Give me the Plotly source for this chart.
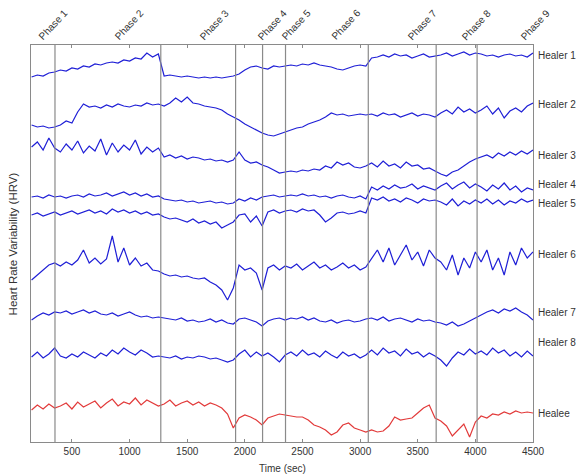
import plotly.graph_objects as go

# time grid (seconds), one sample every 50 s
time_sec = list(range(150, 4501, 50))

# HRV traces (arbitrary stacked units)
healer_1 = ([365, 367, 366, 369, 370] +
            [372, 371, 374, 373, 376, 375, 378, 377, 379, 380, 379, 382, 381, 384, 383, 389, 385, 388] +
            [366, 367, 366, 365, 366, 365, 364, 365, 364, 365, 364, 365, 366] +
            [368, 372, 375, 376, 374] +
            [373, 376, 375, 376] +
            [377, 376, 378, 377, 379, 377, 376, 375, 373, 372, 374, 376, 377, 376] +
            [384, 385, 387, 385, 388, 386, 387, 384, 386, 388, 385, 386] +
            [387, 389, 386, 388, 390, 387, 389] +
            [388, 386, 387, 385, 387, 388, 386, 387, 385, 389])

healer_2 = ([317, 315, 316, 314, 315] +
            [317, 321, 319, 330] +
            [338, 335, 336, 334, 337, 335, 338, 336, 335, 337, 336, 339, 337, 338] +
            [336, 339, 344, 340, 345, 339, 338, 336] +
            [335, 334, 332, 328, 325] +
            [322, 318, 315, 312, 309] +
            [307, 306, 308, 310] +
            [312, 314, 315, 318, 320, 322, 325, 329, 327, 328, 326, 327, 328, 327] +
            [328, 326, 329, 327, 328, 325, 327, 329, 326, 328, 327, 325] +
            [329, 332, 328, 335, 330, 333, 329] +
            [332, 336, 328, 334, 324, 331, 334, 330, 336, 339])

healer_3 = ([295, 300, 292, 304, 294] +
            [290, 298, 292, 301, 289, 296, 291, 303, 287, 299, 290, 297, 292, 302, 288, 295, 290, 294] +
            [285, 287, 284, 286, 283, 285, 284, 282, 283, 281, 282, 280, 282] +
            [290, 282, 279, 280, 277] +
            [275, 272, 269, 270] +
            [271, 270, 272, 271, 273, 272, 276, 274, 280, 277, 279, 275, 274, 276] +
            [279, 275, 281, 276, 278, 274, 280, 276, 277, 273, 274, 271] +
            [268, 266, 270, 272, 276, 280, 283] +
            [285, 287, 284, 289, 286, 290, 287, 291, 288, 292])

healer_4 = ([245, 246, 244, 247, 245, 246, 244, 246, 247, 245, 248, 246, 247, 249, 246, 248, 250, 247, 249, 246, 248, 245, 246] +
            [243, 242, 241, 242, 240, 241, 239, 240, 241, 239, 240, 238, 239] +
            [243, 241, 244, 242, 245] +
            [246, 247, 245, 246] +
            [247, 246, 248, 246, 247, 245, 246, 244, 246, 247, 245, 244, 246, 243] +
            [255, 252, 256, 253, 257, 254, 255, 258, 253, 256, 254, 252] +
            [256, 259, 253, 257, 260, 254, 258] +
            [255, 251, 257, 253, 259, 252, 256, 250, 254, 252])

healer_5 = ([227, 229, 226, 228, 230, 227, 229, 231, 228, 230, 232, 229, 231, 228, 233, 230, 232, 229, 231, 228, 230, 227, 228] +
            [225, 223, 224, 222, 220, 223, 219, 221, 218, 220, 214, 217, 220] +
            [227, 228, 220, 226, 216] +
            [230, 232, 229, 231] +
            [232, 230, 233, 231, 232, 227, 220, 224, 229, 230, 228, 229, 231, 229] +
            [244, 242, 245, 241, 243, 240, 244, 242, 239, 243, 241, 242] +
            [240, 237, 243, 236, 241, 238, 242] +
            [239, 243, 238, 242, 237, 241, 239, 243, 240, 242])

healer_6 = ([162, 167, 172, 177, 179] +
            [176, 180, 177, 182, 192, 179, 184, 178, 183, 206, 180, 194, 177, 184, 176, 179, 172, 171] +
            [168, 166, 167, 165, 166, 164, 163, 164, 160, 157, 152, 142, 154] +
            [177, 172, 174, 169, 152] +
            [174, 177, 172, 176] +
            [174, 178, 172, 176, 180, 174, 177, 172, 175, 179, 174, 177, 172, 175] +
            [184, 192, 180, 194, 177, 187, 197, 182, 190, 176, 192, 184] +
            [180, 172, 187, 167, 184, 174, 190] +
            [180, 192, 172, 184, 167, 190, 177, 194, 184, 190])

healer_7 = ([122, 126, 129, 127, 130] +
            [129, 131, 128, 130, 132, 129, 131, 128, 127, 129, 126, 128, 130, 127, 125, 126, 124, 125] +
            [124, 123, 122, 124, 121, 122, 120, 121, 123, 120, 122, 119, 118] +
            [123, 124, 122, 120, 116] +
            [121, 123, 124, 122] +
            [124, 123, 125, 122, 124, 121, 120, 122, 119, 121, 122, 120, 121, 123] +
            [124, 122, 125, 121, 123, 124, 122, 120, 123, 121, 122, 120] +
            [119, 117, 120, 116, 118, 121, 124] +
            [127, 130, 132, 129, 133, 131, 134, 130, 127, 122])

healer_8 = ([85, 90, 84, 88, 94] +
            [86, 84, 88, 85, 90, 87, 84, 89, 86, 92, 88, 94, 90, 87, 92, 89, 85, 86] +
            [85, 84, 86, 83, 85, 84, 86, 85, 83, 84, 82, 80, 82] +
            [88, 92, 85, 90, 86] +
            [89, 85, 80, 87] +
            [90, 86, 92, 87, 89, 85, 91, 87, 84, 90, 86, 88, 84, 87] +
            [92, 87, 94, 89, 91, 86, 93, 88, 90, 85, 89, 86] +
            [82, 76, 84, 90, 87, 93, 88] +
            [91, 87, 94, 89, 92, 86, 90, 85, 91, 86])

healee = ([32, 37, 33, 38, 34] +
          [36, 39, 33, 40, 35, 38, 41, 34, 39, 43, 36, 40, 38, 44, 37, 42, 39, 36] +
          [38, 42, 36, 39, 41, 37, 40, 36, 39, 37, 34, 28, 14] +
          [24, 27, 25, 22, 17] +
          [24, 26, 28, 27] +
          [26, 25, 25, 22, 17, 15, 12, 7, 10, 17, 19, 14, 12, 10] +
          [12, 10, 11, 16, 25, 22, 23, 24, 29, 34, 37, 24] +
          [21, 16, 6, 12, 18, 5, 20] +
          [26, 24, 28, 27, 30, 28, 31, 29, 30, 29])

series_names = ["Healer 1", "Healer 2", "Healer 3", "Healer 4", "Healer 5",
                "Healer 6", "Healer 7", "Healer 8", "Healee"]
series_values = [healer_1, healer_2, healer_3, healer_4, healer_5,
                 healer_6, healer_7, healer_8, healee]

# phase boundaries (sec) and phase labels
phase_bounds = [353, 1271, 1920, 2154, 2353, 3071, 3660, 4015]
phase_names = ["Phase 1", "Phase 2", "Phase 3", "Phase 4", "Phase 5",
               "Phase 6", "Phase 7", "Phase 8", "Phase 9"]
phase_label_x = [170, 830, 1570, 2075, 2280, 2710, 3375, 3845, 4355]

x_ticks = [500, 1000, 1500, 2000, 2500, 3000, 3500, 4000, 4500]

# layout-only: vertical placement of right-side names
name_label_y = [387, 338, 287, 258, 239, 188, 130, 100, 29]

BLUE = "#1f1fd6"
RED = "#e23a3a"
FONT = "Liberation Sans, Arial, sans-serif"
TXT = "#333333"

fig = go.Figure()
for name, vals in zip(series_names, series_values):
    n = min(len(vals), len(time_sec))
    fig.add_trace(go.Scatter(
        x=time_sec[:n], y=vals[:n], mode="lines", name=name,
        line=dict(color=RED if name == "Healee" else BLUE, width=1.2),
        showlegend=False, hoverinfo="skip"))

shapes = []
for b in phase_bounds:
    shapes.append(dict(type="line", xref="x", yref="paper", x0=b, x1=b, y0=0, y1=1,
                       line=dict(color="#8a8a8a", width=1.2), layer="above"))

annotations = []
for name, yv in zip(series_names, name_label_y):
    annotations.append(dict(x=1.0, xref="paper", y=yv, yref="y", xshift=3,
                            text=name, showarrow=False, xanchor="left", yanchor="middle",
                            font=dict(family=FONT, size=10, color=TXT)))
for name, xv in zip(phase_names, phase_label_x):
    annotations.append(dict(x=xv, xref="x", y=1.0, yref="paper", yshift=0,
                            text=name, showarrow=False, textangle=-47,
                            xanchor="left", yanchor="bottom",
                            font=dict(family=FONT, size=10, color=TXT)))
annotations.append(dict(x=-0.036, xref="paper", y=0.5, yref="paper", text="Heart Rate Variability (HRV)",
                        showarrow=False, textangle=-90, xanchor="center", yanchor="middle",
                        font=dict(family=FONT, size=11.5, color=TXT)))
annotations.append(dict(x=0.5, xref="paper", y=0, yref="paper", yshift=-19,
                        text="Time (sec)", showarrow=False, xanchor="center", yanchor="top",
                        font=dict(family=FONT, size=10, color=TXT)))

fig.update_layout(
    width=576, height=476,
    margin=dict(l=31, r=43, t=45, b=34),
    paper_bgcolor="white", plot_bgcolor="white",
    shapes=shapes, annotations=annotations,
    font=dict(family=FONT, size=10, color=TXT),
    xaxis=dict(range=[145, 4500], tickvals=x_ticks, ticktext=[str(t) for t in x_ticks],
               showgrid=False, zeroline=False, showline=True, linecolor="#8a8a8a",
               linewidth=1, mirror="ticks", ticks="inside", ticklen=3, tickcolor="#8a8a8a",
               tickfont=dict(family=FONT, size=10, color=TXT)),
    yaxis=dict(range=[0, 397], showticklabels=False, showgrid=False, zeroline=False,
               showline=True, linecolor="#8a8a8a", linewidth=1, mirror=True, ticks=""),
)

fig.write_html("out.html")
